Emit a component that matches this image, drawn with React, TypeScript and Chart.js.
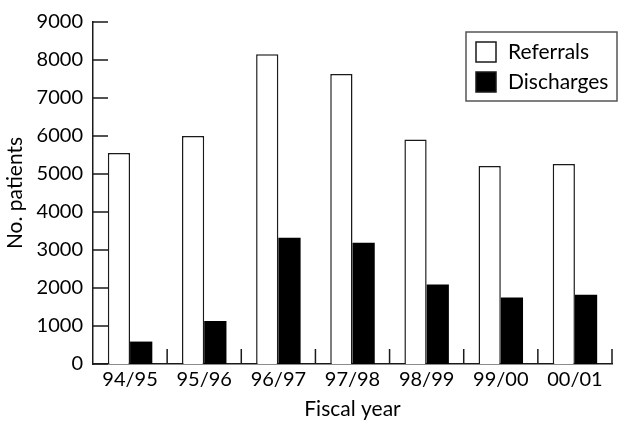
import { useEffect, useRef } from "react";
import { Chart, registerables } from "chart.js";

Chart.register(...registerables);

const categories = ["94/95", "95/96", "96/97", "97/98", "98/99", "99/00", "00/01"];
const referrals = [5550, 6000, 8150, 7630, 5910, 5210, 5260];
const discharges = [590, 1130, 3320, 3190, 2090, 1750, 1820];
const yTicks = [0, 1000, 2000, 3000, 4000, 5000, 6000, 7000, 8000, 9000];
const legendLabels = ["Referrals", "Discharges"];

const FONT = "Lato, 'DejaVu Sans', sans-serif";
const INK = "#1a1a1a";

const overlay = {
  id: "overlay",
  afterDraw(chart: any) {
    const ctx = chart.ctx;
    const area = chart.chartArea;
    const x = chart.scales.x;
    const y = chart.scales.y;
    ctx.save();
    ctx.fillStyle = INK;
    // inward y ticks
    for (let k = 0; k < yTicks.length; k++) {
      const py = y.getPixelForValue(yTicks[k]);
      ctx.fillRect(area.left, py - 0.75, 15, 1.5);
    }
    // inward x ticks between categories
    for (let i = 1; i <= categories.length; i++) {
      const px = x.getPixelForValue(i - 0.5);
      ctx.fillRect(px - 0.75, area.bottom - 15, 1.5, 15);
    }
    // legend
    const lx = 466, ly = 32, lw = 151, lh = 69;
    ctx.fillStyle = "#ffffff";
    ctx.fillRect(lx, ly, lw, lh);
    ctx.strokeStyle = "#555";
    ctx.lineWidth = 1.5;
    ctx.strokeRect(lx, ly, lw, lh);
    const rows = [
      { label: legendLabels[0], fill: "#ffffff", cy: 52 },
      { label: legendLabels[1], fill: "#000000", cy: 82 },
    ];
    ctx.font = `21px ${FONT}`;
    ctx.textBaseline = "middle";
    ctx.textAlign = "left";
    for (const r of rows) {
      ctx.fillStyle = r.fill;
      ctx.fillRect(476, r.cy - 10, 20, 20);
      ctx.strokeStyle = INK;
      ctx.lineWidth = 1.5;
      ctx.strokeRect(476, r.cy - 10, 20, 20);
      ctx.fillStyle = "#000";
      ctx.fillText(r.label, 508, r.cy);
    }
    ctx.restore();
  },
};

export default function App() {
  const ref = useRef<HTMLCanvasElement | null>(null);
  useEffect(() => {
    document.body.style.margin = "0";
    const chart = new Chart(ref.current as HTMLCanvasElement, {
      type: "bar",
      data: {
        labels: categories,
        datasets: [
          {
            label: legendLabels[0],
            data: referrals,
            backgroundColor: "#ffffff",
            borderColor: INK,
            borderWidth: 1.5,
          },
          {
            label: legendLabels[1],
            data: discharges,
            backgroundColor: "#000000",
            borderColor: "#000000",
            borderWidth: 0,
          },
        ],
      },
      options: {
        animation: false,
        responsive: false,
        maintainAspectRatio: false,
        layout: { padding: { top: 7, right: 28, left: 0, bottom: 0 } },
        datasets: { bar: { categoryPercentage: 0.6, barPercentage: 1 } },
        plugins: { legend: { display: false }, tooltip: { enabled: false } },
        scales: {
          x: {
            offset: true,
            grid: { display: false, drawTicks: false },
            border: { display: true, color: INK, width: 1.5 },
            ticks: { color: "#000", font: { family: FONT, size: 20 }, padding: 4, maxRotation: 0 },
            title: {
              display: true,
              text: "Fiscal year",
              color: "#000",
              font: { family: FONT, size: 21 },
              padding: { top: 0, bottom: 0 },
            },
            afterFit(scale: any) {
              scale.height = 58;
            },
          },
          y: {
            min: 0,
            max: 9000,
            grid: { display: false, drawTicks: false },
            border: { display: true, color: INK, width: 1.5 },
            ticks: {
              stepSize: 1000,
              color: "#000",
              font: { family: FONT, size: 20 },
              padding: 10,
              callback: (v: any) => String(v),
            },
            title: {
              display: true,
              text: "No. patients",
              color: "#000",
              font: { family: FONT, size: 21 },
              padding: { top: 3, bottom: 0 },
            },
            afterFit(scale: any) {
              scale.width = 93;
            },
          },
        },
      },
      plugins: [overlay],
    });
    return () => chart.destroy();
  }, []);
  return (
    <div style={{ width: 640, height: 422 }}>
      <canvas ref={ref} width={640} height={422} style={{ display: "block" }} />
    </div>
  );
}
